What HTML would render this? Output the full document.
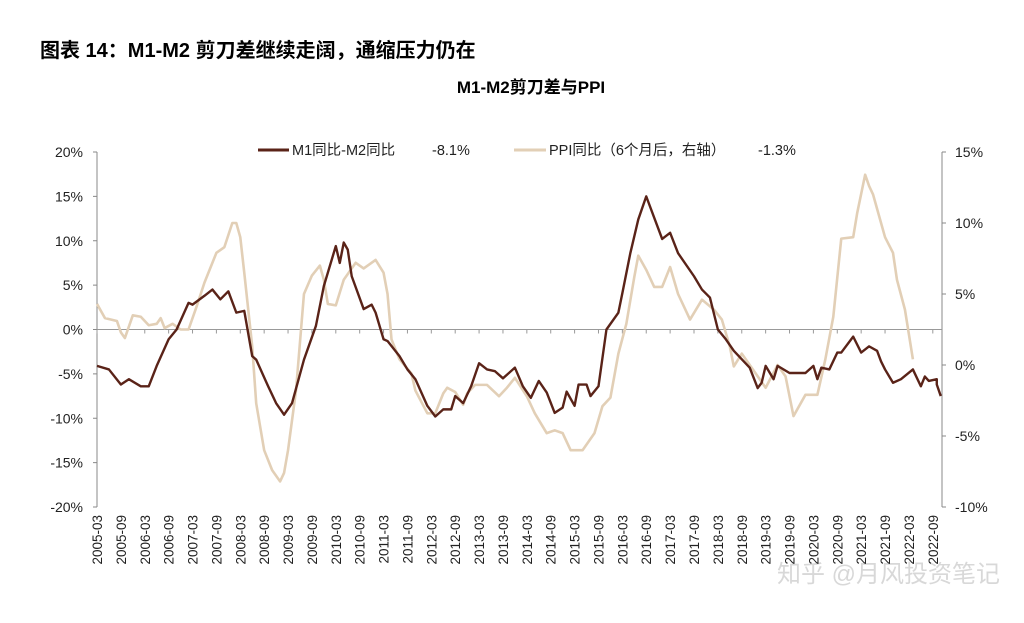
<!DOCTYPE html>
<html><head><meta charset="utf-8"><style>
body{margin:0;background:#fff;}
svg text{font-family:"Liberation Sans","Noto Sans CJK SC",sans-serif;}
</style></head><body>
<svg id="c" width="1024" height="618" viewBox="0 0 1024 618">
<text x="40" y="57" font-size="20" font-weight="bold" fill="#000">图表 14：M1-M2 剪刀差继续走阔，通缩压力仍在</text>
<text x="531" y="93" font-size="17" font-weight="bold" text-anchor="middle" fill="#000">M1-M2剪刀差与PPI</text>
<g>
<line x1="258" y1="150" x2="289" y2="150" stroke="#5a2318" stroke-width="3"/>
<text x="292" y="155" font-size="14.5" fill="#222">M1同比-M2同比</text>
<text x="432" y="155" font-size="14.5" fill="#222">-8.1%</text>
<line x1="514" y1="150" x2="546" y2="150" stroke="#e2cfb6" stroke-width="3"/>
<text x="549" y="155" font-size="14.5" fill="#222">PPI同比（6个月后，右轴）</text>
<text x="758" y="155" font-size="14.5" fill="#222">-1.3%</text>
</g>
<text x="1000" y="582" font-size="24" fill="#d8d8d8" text-anchor="end">知乎 @月风投资笔记</text>
</svg>
<script>
const leftTicks=[20,15,10,5,0,-5,-10,-15,-20];
const rightTicks=[15,10,5,0,-5,-10];
const xLabels=[];
for(let y=2005;y<=2022;y++){xLabels.push(y+'-03');xLabels.push(y+'-09');}
const m1Months=[0,3,6,8,11,13,15,18,20,23,24,27,29,31,33,35,37,39,40,43,45,47,49,52,55,57,60,61,62,63,64,67,69,70,72,73,76,78,80,83,85,87,89,90,92,94,96,98,100,102,105,107,109,111,113,115,117,118,120,121,123,124,126,128,131,132,134,136,138,140,142,144,146,150,152,154,156,158,160,164,166,167,168,170,171,174,178,180,181,182,184,186,187,190,192,194,196,197,198,200,202,205,207,208,209,211,211,212];
const m1Values=[-4.1,-4.5,-6.2,-5.6,-6.4,-6.4,-4.1,-1.1,0,3.0,2.8,3.8,4.5,3.4,4.3,1.9,2.1,-3.0,-3.4,-6.4,-8.3,-9.6,-8.3,-3.4,0.4,4.9,9.4,7.5,9.8,9.0,6.0,2.3,2.8,1.9,-1.1,-1.3,-3.0,-4.5,-5.6,-8.6,-9.8,-9.0,-9.0,-7.5,-8.3,-6.4,-3.8,-4.5,-4.7,-5.5,-4.3,-6.4,-7.7,-5.8,-7.1,-9.4,-8.8,-7.0,-8.6,-6.2,-6.2,-7.5,-6.4,0,1.9,4.1,8.6,12.4,15.0,12.6,10.2,10.9,8.6,6.0,4.5,3.6,0,-1.1,-2.4,-4.3,-6.6,-6.0,-4.1,-5.6,-4.1,-4.9,-4.9,-4.1,-5.6,-4.3,-4.5,-2.6,-2.6,-0.8,-2.6,-1.9,-2.4,-3.6,-4.5,-6.0,-5.6,-4.5,-6.4,-5.3,-5.8,-5.6,-6.2,-7.5,-8.1];
const ppiMonths=[0,2,5,6,7,9,11,13,15,16,17,19,21,23,25,27,30,32,34,35,36,37,39,40,42,44,46,47,48,50,52,54,56,57,58,60,62,65,67,70,72,73,74,76,79,80,83,85,87,88,90,92,93,95,98,101,103,105,108,110,113,115,117,119,122,125,127,129,131,133,135,136,138,140,142,144,146,149,152,155,157,159,160,162,165,168,171,173,175,178,181,183,185,187,190,191,193,194,195,198,200,201,203,205];
const ppiValues=[4.3,3.3,3.1,2.3,1.9,3.5,3.4,2.8,2.9,3.3,2.6,2.9,2.5,2.5,4.1,5.8,7.9,8.3,10.0,10.0,9.0,6.5,1.3,-2.7,-6.0,-7.4,-8.2,-7.6,-6.0,-1.8,5.0,6.3,7.0,6.0,4.3,4.2,6.0,7.2,6.8,7.4,6.5,5.0,1.8,0.4,-0.6,-1.8,-3.4,-3.4,-2.0,-1.6,-1.9,-2.8,-2.0,-1.4,-1.4,-2.2,-1.6,-0.9,-2.2,-3.4,-4.8,-4.6,-4.8,-6.0,-6.0,-4.8,-2.9,-2.3,0.8,2.9,6.2,7.7,6.7,5.5,5.5,6.9,5.0,3.2,4.6,3.9,3.2,1.3,-0.1,0.8,-0.4,-1.6,0,-0.8,-3.6,-2.1,-2.1,0.4,3.4,8.9,9.0,10.7,13.4,12.6,12.0,9.0,7.9,6.0,3.9,0.4,-1.5];
const svg=document.getElementById('c');const NS='http://www.w3.org/2000/svg';
const X0=97,X1=942,PX=3.98,YT=152,YB=507;
const xS=m=>X0+m*PX;
const yL=v=>YT+(20-v)/40*(YB-YT);
const yR=v=>YT+(15-v)/25*(YB-YT);
function mk(t,a,p){const e=document.createElementNS(NS,t);for(const k in a)e.setAttribute(k,a[k]);(p||svg).appendChild(e);return e;}
const ax=mk('g',{});


const la=mk('line',{x1:X0,y1:YT,x2:X0,y2:YB,stroke:'#888','stroke-width':1},ax);


const ra=mk('line',{x1:X1,y1:YT,x2:X1,y2:YB,stroke:'#888','stroke-width':1},ax);


leftTicks.forEach(v=>{const y=yL(v);mk('line',{x1:X0-4,y1:y,x2:X0,y2:y,stroke:'#888'},ax);
const t=mk('text',{x:X0-14,y:y+5,'font-size':14,'text-anchor':'end',fill:'#222'},ax);t.textContent=v+'%';

});
rightTicks.forEach(v=>{const y=yR(v);mk('line',{x1:X1,y1:y,x2:X1+4,y2:y,stroke:'#888'},ax);
const t=mk('text',{x:X1+13,y:y+5,'font-size':14,fill:'#222'},ax);t.textContent=v+'%';

});
const zl=mk('line',{x1:X0,y1:yL(0),x2:X1,y2:yL(0),stroke:'#999','stroke-width':1},ax);


xLabels.forEach((s,i)=>{const x=xS(i*6);mk('line',{x1:x,y1:yL(0),x2:x,y2:yL(0)+4,stroke:'#999'},ax);
const t=mk('text',{x:0,y:0,'font-size':13.5,'text-anchor':'end',fill:'#222',transform:`translate(${x+5},${YB+8}) rotate(-90)`},ax);t.textContent=s;

});
const pp=mk('polyline',{points:ppiMonths.map((m,i)=>xS(m)+','+yR(ppiValues[i])).join(' '),fill:'none',stroke:'#e2cfb6','stroke-width':2.6,'stroke-linejoin':'round'});


const mm=mk('polyline',{points:m1Months.map((m,i)=>xS(m)+','+yL(m1Values[i])).join(' '),fill:'none',stroke:'#5a2318','stroke-width':2.4,'stroke-linejoin':'round'});


</script>
</body></html>
